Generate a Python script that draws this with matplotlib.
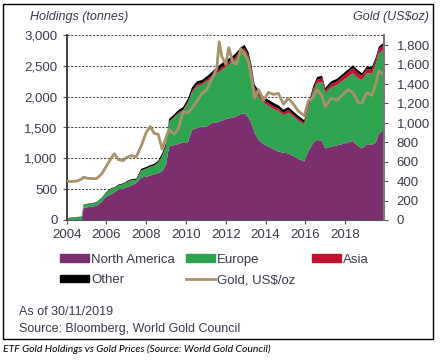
import numpy as np
import matplotlib
matplotlib.use("Agg")
import matplotlib.pyplot as plt
from matplotlib.patches import Patch, Rectangle
from matplotlib.lines import Line2D
from matplotlib.ticker import StrMethodFormatter

# decimal year of each reading
dates = [2004.00, 2004.25, 2004.50, 2004.75, 2004.85, 2005.00, 2005.25, 2005.50, 2005.75,
         2006.00, 2006.25, 2006.40, 2006.60, 2006.85, 2007.00, 2007.25, 2007.50, 2007.75,
         2008.00, 2008.20, 2008.40, 2008.60, 2008.80, 2009.00, 2009.15, 2009.40, 2009.60,
         2009.85, 2010.10, 2010.30, 2010.55, 2010.80, 2011.05, 2011.30, 2011.55, 2011.67,
         2011.80, 2012.00, 2012.15, 2012.35, 2012.55, 2012.75, 2012.95, 2013.15, 2013.30,
         2013.45, 2013.65, 2013.90, 2014.15, 2014.40, 2014.65, 2014.90, 2015.15, 2015.40,
         2015.65, 2015.95, 2016.15, 2016.40, 2016.60, 2016.85, 2017.00, 2017.30, 2017.60,
         2017.85, 2018.15, 2018.40, 2018.65, 2018.85, 2019.10, 2019.35, 2019.55, 2019.70,
         2019.92]

# holdings, tonnes
north_america = [0, 0, 0, 0, 200, 205, 215, 230, 290,
                 380, 420, 450, 490, 510, 530, 560, 600, 690,
                 700, 720, 740, 760, 790, 900, 1190, 1215, 1230,
                 1260, 1260, 1460, 1490, 1510, 1520, 1570, 1580, 1600,
                 1610, 1640, 1650, 1660, 1680, 1720, 1730, 1660, 1560,
                 1420, 1300, 1230, 1190, 1150, 1110, 1090, 1080, 1040,
                 990, 950, 1120, 1250, 1300, 1280, 1160, 1190, 1210,
                 1230, 1260, 1280, 1200, 1160, 1230, 1220, 1260, 1400,
                 1450]
europe = [20, 40, 45, 50, 50, 50, 50, 55, 60,
          65, 90, 70, 70, 70, 80, 80, 50, 110,
          130, 140, 140, 170, 240, 300, 400, 445, 490,
          510, 640, 600, 680, 680, 730, 730, 800, 800,
          820, 840, 870, 900, 940, 980, 1010, 960, 840,
          680, 700, 670, 660, 650, 660, 610, 660, 640,
          620, 600, 680, 830, 920, 960, 900, 960, 980,
          1020, 1060, 1100, 1100, 1110, 1150, 1150, 1270, 1300,
          1310]
asia = [0, 0, 0, 0, 0, 0, 0, 0, 0,
        0, 0, 0, 2, 2, 2, 3, 3, 5,
        5, 5, 5, 5, 10, 10, 10, 10, 15,
        15, 20, 30, 30, 30, 30, 40, 40, 45,
        45, 45, 45, 45, 45, 45, 45, 45, 45,
        45, 45, 45, 45, 45, 40, 40, 40, 35,
        35, 30, 35, 45, 55, 55, 45, 55, 55,
        65, 75, 80, 80, 70, 70, 70, 70, 70,
        70]
other = [5, 5, 5, 5, 5, 7, 7, 7, 8,
         10, 10, 10, 13, 13, 13, 17, 17, 25,
         25, 25, 25, 25, 40, 40, 40, 40, 45,
         45, 50, 60, 50, 50, 50, 60, 60, 65,
         65, 65, 55, 55, 55, 55, 55, 55, 55,
         55, 55, 55, 55, 55, 50, 50, 50, 45,
         45, 40, 45, 45, 45, 45, 35, 45, 45,
         45, 45, 50, 50, 40, 40, 40, 40, 40,
         40]
# gold price, US$/oz
gold = [400, 395, 400, 420, 440, 430, 425, 425, 470,
        555, 640, 680, 620, 610, 640, 660, 650, 760,
        900, 960, 890, 880, 730, 850, 930, 880, 930,
        1110, 1100, 1150, 1220, 1300, 1340, 1450, 1560, 1830,
        1680, 1600, 1770, 1620, 1600, 1760, 1700, 1620, 1450,
        1250, 1340, 1230, 1310, 1290, 1300, 1190, 1250, 1190,
        1120, 1070, 1220, 1260, 1340, 1270, 1160, 1250, 1230,
        1280, 1340, 1310, 1210, 1200, 1310, 1280, 1400, 1530,
        1500]

series_names = ["North America", "Europe", "Asia", "Other"]
colors = ["#7b2f6e", "#2ea44f", "#c1122f", "#000000"]
gold_color = "#a8926a"
year_ticks = list(range(2004, 2019, 2))

txt = "#3a3a4a"
plt.rcParams["font.family"] = ["Liberation Sans", "DejaVu Sans"]

fig = plt.figure(figsize=(4.4, 3.61), dpi=100)
ax = fig.add_axes([66.7 / 440, 1 - 220 / 361, (384 - 66.7) / 440, (220 - 35) / 361])

ax.stackplot(dates, north_america, europe, asia, other, colors=colors, linewidth=0)
ax.set_xlim(2004, 2019.96)
ax.set_ylim(0, 3000)
ax.set_yticks(range(0, 3001, 500))
ax.yaxis.set_major_formatter(StrMethodFormatter("{x:,.0f}"))
ax.set_xticks(year_ticks)
ax.grid(axis="y", color="#444444", linestyle=(0, (2, 1.5)), linewidth=0.75)
ax.set_axisbelow(True)
ax.spines["top"].set_visible(False)
ax.spines["left"].set_color("#333333")
ax.spines["left"].set_linewidth(1.3)
ax.spines["bottom"].set_color("#555555")
ax.spines["right"].set_visible(False)
ax.tick_params(axis="both", labelsize=9.5, colors="#555555", labelcolor=txt, length=3)

ax2 = ax.twinx()
ax2.plot(dates, gold, color=gold_color, linewidth=2)
ax2.set_ylim(0, 1900)
ax2.set_yticks(range(0, 1801, 200))
ax2.yaxis.set_major_formatter(StrMethodFormatter("{x:,.0f}"))
ax2.spines["top"].set_visible(False)
ax2.spines["left"].set_visible(False)
ax2.spines["bottom"].set_visible(False)
ax2.spines["right"].set_color("#777777")
ax2.spines["right"].set_linewidth(1.5)
ax2.tick_params(axis="y", labelsize=9.5, colors="#555555", labelcolor=txt, length=3, pad=6)

fig.text(30 / 440, 1 - 17 / 361, "Holdings (tonnes)", fontsize=9, style="italic",
         color=txt, va="center", ha="left")
fig.text(429 / 440, 1 - 17 / 361, "Gold (US$oz)", fontsize=9, style="italic",
         color=txt, va="center", ha="right")

# legend, one column at a time
handles = [Patch(color=c, label=n) for c, n in zip(colors, series_names)]
gold_handle = Line2D([], [], color=gold_color, linewidth=2, label="Gold, US$/oz")
columns = [([handles[0], handles[3]], 60), ([handles[1], gold_handle], 186), ([handles[2]], 312)]
for hs, xpx in columns:
    fig.legend(handles=hs, loc="upper left", bbox_to_anchor=(xpx / 440, 1 - 254 / 361),
               frameon=False, fontsize=9.5, handlelength=2.2, handleheight=0.55,
               handletextpad=0.15, labelspacing=0.62, borderaxespad=0, borderpad=0,
               labelcolor=txt)

fig.text(19 / 440, 1 - 312 / 361, "As of 30/11/2019", fontsize=9, color=txt, va="center")
fig.text(19 / 440, 1 - 329 / 361, "Source: Bloomberg, World Gold Council", fontsize=9,
         color=txt, va="center")

fig.patches.append(Rectangle((3 / 440, 1 - 339 / 361), 430 / 440, 335 / 361,
                             transform=fig.transFigure, fill=False, edgecolor="black",
                             linewidth=1))
fig.text(3 / 440, 1 - 349 / 361, "ETF Gold Holdings vs Gold Prices (Source: World Gold Council)",
         fontsize=7.5, style="italic", color="black", va="center", family=["Lato", "DejaVu Sans"])

fig.savefig("out.png", dpi=100)
